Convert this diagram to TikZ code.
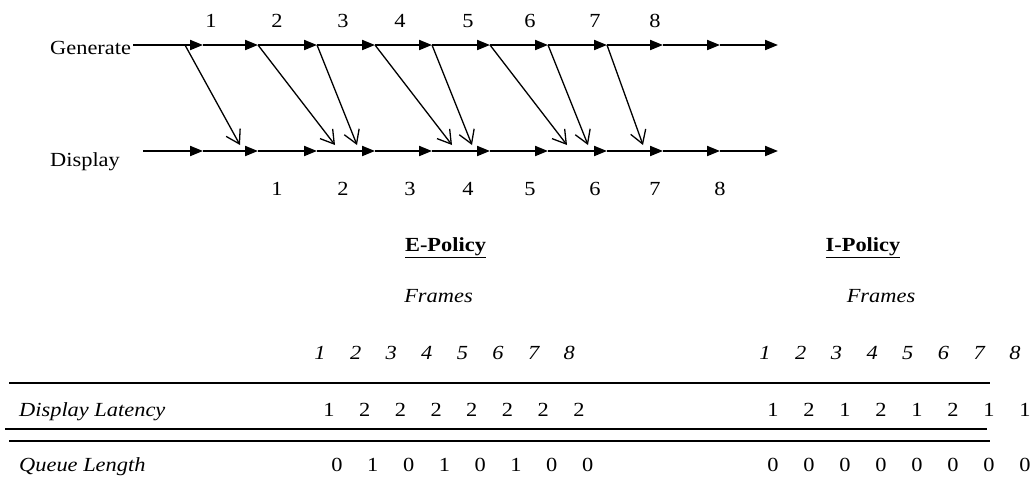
\documentclass[tikz,border=0pt]{standalone}
\usepackage{fontspec}
\setmainfont{Liberation Serif}[FakeStretch=1.12]
\usetikzlibrary{arrows.meta}
\begin{document}
\begin{tikzpicture}[x=1pt,y=-1pt,
  hline/.style={line width=2pt,-{Triangle[length=13pt,width=10pt]}},
  diag/.style={line width=1.3pt,-{Straight Barb[length=13pt,width=16pt,line width=1.3pt]}},
  txt/.style={inner sep=0pt,anchor=base,font=\fontsize{20}{22}\selectfont},
  ltxt/.style={txt,anchor=base west},
  itxt/.style={txt,font=\fontsize{20}{22}\selectfont\itshape},
  rule/.style={line width=2pt}]
\useasboundingbox (0,0) rectangle (1034,480);
% timeline points
\coordinate (g0) at (133,45);
\coordinate (d0) at (143,151);
\foreach \x [count=\i] in {203,258,317,375,432,490,548,607,663,720,778}{
  \coordinate (g\i) at (\x,45);
  \coordinate (d\i) at (\x,151);
}
\foreach \i [remember=\i as \lasti (initially 0)] in {1,...,11}{
  \draw[hline] (g\lasti) -- (g\i);
  \draw[hline] (d\lasti) -- (d\i);
}
% diagonal arrows
\foreach \a/\b [count=\i] in {185/240,258/335,317/357,375/452,432/472,490/567,548/588,607/643}{
  \coordinate (s\i) at (\a,45);
  \coordinate (e\i) at (\b,145);
  \draw[diag] (s\i) -- (e\i);
}
% labels
\node[ltxt] (gen) at (50,54) {Generate};
\node[ltxt] (dis) at (50,166) {Display};
\foreach \x [count=\i] in {211,277,343,400,468,530,595,655}
  \node[txt] (top\i) at (\x,27) {\i};
\foreach \x [count=\i] in {277,343,410,468,530,595,655,720}
  \node[txt] (bot\i) at (\x,195) {\i};
% table headers
\node[txt] (ep) at (445.5,251) {\underline{\textbf{E-Policy}}};
\node[txt] (ip) at (863,251) {\underline{\textbf{I-Policy}}};
\node[itxt] (ef) at (438.5,302) {Frames};
\node[itxt] (if) at (881,302) {Frames};
\foreach \i in {1,...,8}{
  \node[itxt] (eh\i) at ({320+35.6*(\i-1)},359) {\i};
  \node[itxt] (ih\i) at ({765+35.7*(\i-1)},359) {\i};
}
% rules
\coordinate (r1a) at (9,383);  \coordinate (r1b) at (990,383);
\coordinate (r2a) at (5,429);  \coordinate (r2b) at (987,429);
\coordinate (r3a) at (9,441);  \coordinate (r3b) at (990,441);
\draw[rule] (r1a) -- (r1b);
\draw[rule] (r2a) -- (r2b);
\draw[rule] (r3a) -- (r3b);
% rows
\node[ltxt,font=\fontsize{20}{22}\selectfont\itshape] (dl) at (19,416) {Display Latency};
\node[ltxt,font=\fontsize{20}{22}\selectfont\itshape] (ql) at (19,471) {Queue Length};
\foreach \v [count=\i] in {1,2,2,2,2,2,2,2}
  \node[txt] (el\i) at ({329+35.7*(\i-1)},416) {\v};
\foreach \v [count=\i] in {0,1,0,1,0,1,0,0}
  \node[txt] (eq\i) at ({337+35.8*(\i-1)},471) {\v};
\foreach \v [count=\i] in {1,2,1,2,1,2,1,1}
  \node[txt] (il\i) at ({773+36*(\i-1)},416) {\v};
\foreach \v [count=\i] in {0,0,0,0,0,0,0,0}
  \node[txt] (iq\i) at ({773+36*(\i-1)},471) {\v};
\end{tikzpicture}
\end{document}
